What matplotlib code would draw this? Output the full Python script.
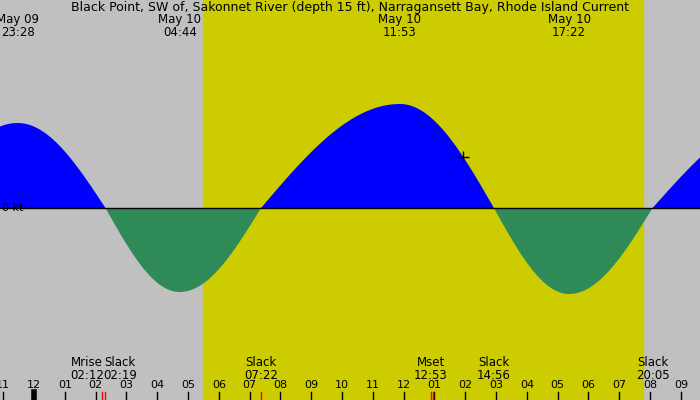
import matplotlib
matplotlib.use("Agg")
import matplotlib.pyplot as plt
import numpy as np

# event times in hours from May 9 00:00, speeds in knots
event_t = [20.35, 23.47, 26.32, 28.73, 31.37, 35.88, 38.93, 41.37, 44.08, 48.4]
event_v = [0.0, 0.85, 0.0, -0.84, 0.0, 1.04, 0.0, -0.86, 0.0, 0.95]
top_labels = [("May 09\n23:28", 23.47), ("May 10\n04:44", 28.73), ("May 10\n11:53", 35.88), ("May 10\n17:22", 41.37)]
bottom_labels = [("Mrise\n02:12", 25.72), ("Slack\n02:19", 26.80), ("Slack\n07:22", 31.37),
                 ("Mset\n12:53", 36.88), ("Slack\n14:56", 38.93), ("Slack\n20:05", 44.08)]
hour_ticks = list(range(23, 46))
hour_labels = ["%02d" % (h % 12 if h % 12 else 12) for h in hour_ticks]
sunrise, sunset = 29.5, 43.77
red_marks = [26.2, 26.32, 31.37, 36.88, 36.95]

t0, t1 = 22.896, 45.62
ymax, ymin = 2.08, -1.92

fig = plt.figure(figsize=(7, 4), dpi=100)
ax = fig.add_axes([0, 0, 1, 1])
ax.set_xlim(t0, t1); ax.set_ylim(ymin, ymax)
ax.set_facecolor("#c0c0c0")
ax.axvspan(sunrise, sunset, color="#cccc00", zorder=0)

ts, vs = [], []
for i in range(len(event_t) - 1):
    a, b = event_t[i], event_t[i + 1]
    va, vb = event_v[i], event_v[i + 1]
    s = np.linspace(0, 1, 80)
    ts.append(a + (b - a) * s)
    if va == 0:
        vs.append(vb * np.sin(np.pi / 2 * s))
    else:
        vs.append(va * np.cos(np.pi / 2 * s))
t = np.concatenate(ts); v = np.concatenate(vs)
ax.fill_between(t, 0, v, where=v >= 0, color="#0000ff", lw=0, interpolate=True)
ax.fill_between(t, 0, v, where=v <= 0, color="#2e8b57", lw=0, interpolate=True)
ax.axhline(0, color="black", lw=1)
ax.plot([37.93], [0.51], marker="+", color="black", ms=8, mew=1)
ax.text(t0 + 0.05, 0, "0 kt", fontsize=8, va="center", ha="left")

ax.text((t0 + t1) / 2, ymax - 0.08, "Black Point, SW of, Sakonnet River (depth 15 ft), Narragansett Bay, Rhode Island Current",
        ha="center", va="center", fontsize=9)
for s, x in top_labels:
    ax.text(x, ymax - 0.26, s, ha="center", va="center", fontsize=8.5, linespacing=0.95)
for s, x in bottom_labels:
    ax.text(x, -1.61, s, ha="center", va="center", fontsize=8.5, linespacing=0.95)
for h, lab in zip(hour_ticks, hour_labels):
    ax.text(h, -1.77, lab, ha="center", va="center", fontsize=8)
    ax.plot([h, h], [-1.92, -1.84], color="black", lw=4 if h == 24 else 1)
for x in red_marks:
    ax.plot([x, x], [-1.92, -1.84], color="red", lw=1)
ax.set_xticks([]); ax.set_yticks([])
for sp in ax.spines.values():
    sp.set_visible(False)
fig.savefig("out.png", dpi=100)
